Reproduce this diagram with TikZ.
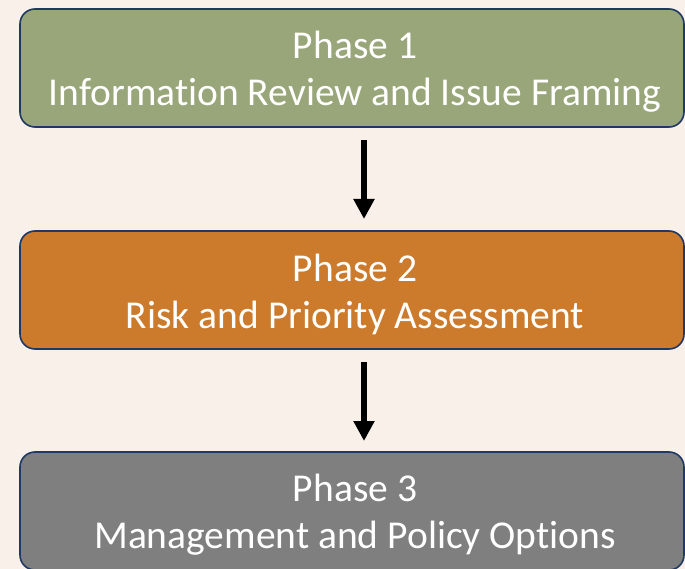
\documentclass[tikz,border=0pt]{standalone}
\usepackage{fontspec}
\setmainfont{Carlito}[Ligatures=NoCommon]
\usetikzlibrary{arrows.meta}
\definecolor{bgc}{HTML}{F9F0EA}
\definecolor{edgec}{HTML}{1F3864}
\definecolor{greenc}{HTML}{98A67A}
\definecolor{orangec}{HTML}{CC7A2B}
\definecolor{grayc}{HTML}{7F7F7F}
\tikzset{
  phasebox/.style={draw=edgec, line width=1.6pt, rounded corners=15pt, minimum width=664pt, minimum height=118pt, inner sep=0pt},
  phasetext/.style={text=white, align=center, font=\fontsize{39.5}{47}\selectfont, inner sep=0pt, xshift=3pt, yshift=-4pt},
  flowarrow/.style={line width=6pt, draw=black, -{Triangle[width=20pt,length=20pt]}, shorten >=0pt}
}
\begin{document}
\begin{tikzpicture}[x=1pt,y=-1pt]
\fill[bgc] (0,0) rectangle (685,569);
\useasboundingbox (0,0) rectangle (685,569);
\node[phasebox, fill=greenc] (p1) at (352,68) {};
\node[phasebox, fill=orangec] (p2) at (352,290) {};
\node[phasebox, fill=grayc] (p3) at (352,511) {};
\node[phasetext] (t1) at (p1.center) {Phase 1\\Information Review and Issue Framing};
\node[phasetext] (t2) at (p2.center) {Phase 2\\Risk and Priority Assessment};
\node[phasetext] (t3) at (p3.center) {Phase 3\\Management and Policy Options};
\coordinate (a1s) at (364,140);
\coordinate (a1e) at (364,219);
\coordinate (a2s) at (364,362);
\coordinate (a2e) at (364,441);
\draw[flowarrow] (a1s) -- (a1e);
\draw[flowarrow] (a2s) -- (a2e);
\end{tikzpicture}
\end{document}
